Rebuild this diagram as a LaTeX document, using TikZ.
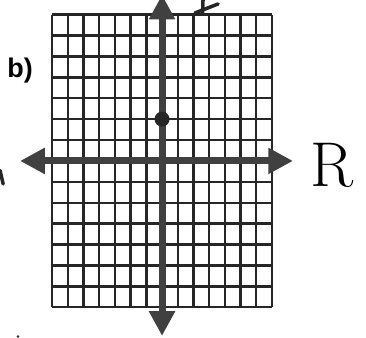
\documentclass[tikz,border=0pt]{standalone}
\usepackage{fontspec}
\newfontfamily\labelfont{Liberation Sans}
\usetikzlibrary{arrows.meta}

\begin{document}
\begin{tikzpicture}[x=0.471cm, y=0.627cm,
  gridline/.style={black!85, line width=2pt},
  axisline/.style={black!75, line width=6pt,
    {Triangle[length=0.74cm,width=0.74cm]}-{Triangle[length=0.74cm,width=0.74cm]}},
  pen/.style={black!85, line width=3pt, line cap=round}]
\useasboundingbox (-10.32,-8.47) rectangle (12.99,7.70);
% Grid of 14 by 14 cells
\foreach \i in {-7,...,7} {
  \draw[gridline] (\i,-7) -- (\i,7);
  \draw[gridline] (-7,\i) -- (7,\i);
}
% Ends of the axes
\coordinate (xleft) at (-9.04,0);
\coordinate (xright) at (8.34,0);
\coordinate (ybottom) at (0,-8.37);
\coordinate (ytop) at (0,7.95);
\draw[axisline] (xleft) -- (xright);
\draw[axisline] (ybottom) -- (ytop);
% Point on the vertical axis
\node[circle, fill=black!85, inner sep=0pt, minimum size=0.45cm] (P) at (0,2) {};
% Labels
\node[font=\labelfont\bfseries\fontsize{23}{23}\selectfont] (partb) at (-9.04,4.31) {b)};
\node[font=\fontsize{54}{54}\selectfont] (rlabel) at (10.83,-0.19) {R};
% Pen marks cut off at the edges
\draw[pen] (2.10,7.08) -- (3.57,7.51);
\draw[pen] (2.61,7.70) -- (2.58,7.03);
\draw[pen] (-10.32,-0.45) -- (-10.12,-1.10);
\fill[black!85] (-9.17,-8.40) circle (1.2pt);
\end{tikzpicture}
\end{document}
